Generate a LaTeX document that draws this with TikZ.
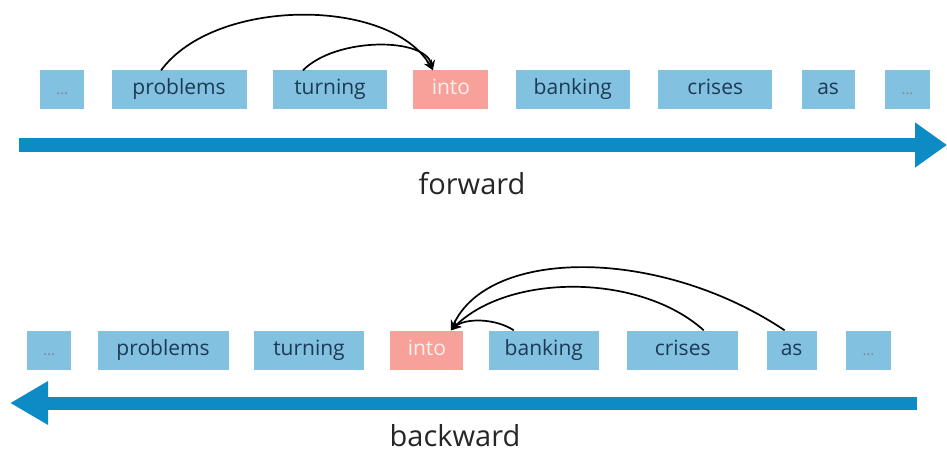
\documentclass[tikz,border=0pt]{standalone}
\usepackage{fontspec}
\setmainfont{Open Sans}
\usetikzlibrary{positioning, arrows.meta}
\definecolor{wordblue}{HTML}{82C1E0}
\definecolor{flowblue}{HTML}{0D8BC5}
\definecolor{targetpink}{HTML}{F8A19A}
\definecolor{wordtext}{HTML}{1C3A55}

\begin{document}
\begin{tikzpicture}[
  x=1pt, y=-1pt, >={Stealth[length=10pt,width=9pt]},
  font=\fontsize{21}{24}\selectfont,
  word/.style={fill=wordblue, text=wordtext, minimum height=39pt, inner sep=0pt,
    text height=15pt, text depth=5pt},
  target/.style={word, fill=targetpink, text=white!85!targetpink},
  gap/.style={word, text=wordtext!60, font=\fontsize{15}{16}\selectfont},
  dep/.style={->, line width=1.7pt, black},
  flow/.style={line width=14pt, flowblue},
  dirlabel/.style={text=black!85, anchor=base, inner sep=0pt, text depth=0pt,
    font=\fontsize{29}{32}\selectfont}
]
\useasboundingbox (0,0) rectangle (947,454);

% forward direction
\node[gap, minimum width=44pt, anchor=west] (f0) at (40,90) {…};
\node[word, minimum width=135pt, right=27pt of f0] (fprob) {problems};
\node[word, minimum width=114pt, right=26pt of fprob] (fturn) {turning};
\node[target, minimum width=75pt, right=26pt of fturn] (finto) {into};
\node[word, minimum width=114pt, right=27pt of finto] (fbank) {banking};
\node[word, minimum width=114pt, right=28pt of fbank] (fcris) {crises};
\node[word, minimum width=53pt, right=29pt of fcris] (fas) {as};
\node[gap, minimum width=45pt, right=30pt of fas] (f8) {…};

\coordinate (fwdstart) at (19,145);
\coordinate (fwdend) at (947,145);
\draw[flow, -{Triangle[length=32pt,width=43pt]}] (fwdstart) -- (fwdend);
\node[dirlabel] (fwdlabel) at (472,195) {forward};

\draw[dep] ([xshift=-18pt]fprob.north) .. controls (215,-3) and (390,-3) .. ([xshift=-18pt]finto.north);
\draw[dep] ([xshift=-27pt]fturn.north) .. controls (336,37) and (425,37) .. ([xshift=-18pt]finto.north);

% backward direction
\node[gap, minimum width=44pt, anchor=west] (b0) at (27,350) {…};
\node[word, minimum width=131pt, right=26pt of b0] (bprob) {problems};
\node[word, minimum width=110pt, right=25pt of bprob] (bturn) {turning};
\node[target, minimum width=73pt, right=26pt of bturn] (binto) {into};
\node[word, minimum width=110pt, right=25pt of binto] (bbank) {banking};
\node[word, minimum width=111pt, right=28pt of bbank] (bcris) {crises};
\node[word, minimum width=50pt, right=28pt of bcris] (bas) {as};
\node[gap, minimum width=45pt, right=29pt of bas] (b8) {…};

\coordinate (bwdstart) at (917,403);
\coordinate (bwdend) at (10,403);
\draw[flow, line width=13pt, -{Triangle[length=38pt,width=41pt]}] (bwdstart) -- (bwdend);
\node[dirlabel] (bwdlabel) at (455,446) {backward};

\draw[dep] ([xshift=-30pt]bbank.north) .. controls (495,318) and (465,318) .. ([xshift=24pt]binto.north);
\draw[dep] ([xshift=21pt]bcris.north) .. controls (640,273) and (509,273) .. ([xshift=24pt]binto.north);
\draw[dep] ([xshift=-7pt]bas.north) .. controls (660,247) and (489,247) .. ([xshift=24pt]binto.north);
\end{tikzpicture}
\end{document}
